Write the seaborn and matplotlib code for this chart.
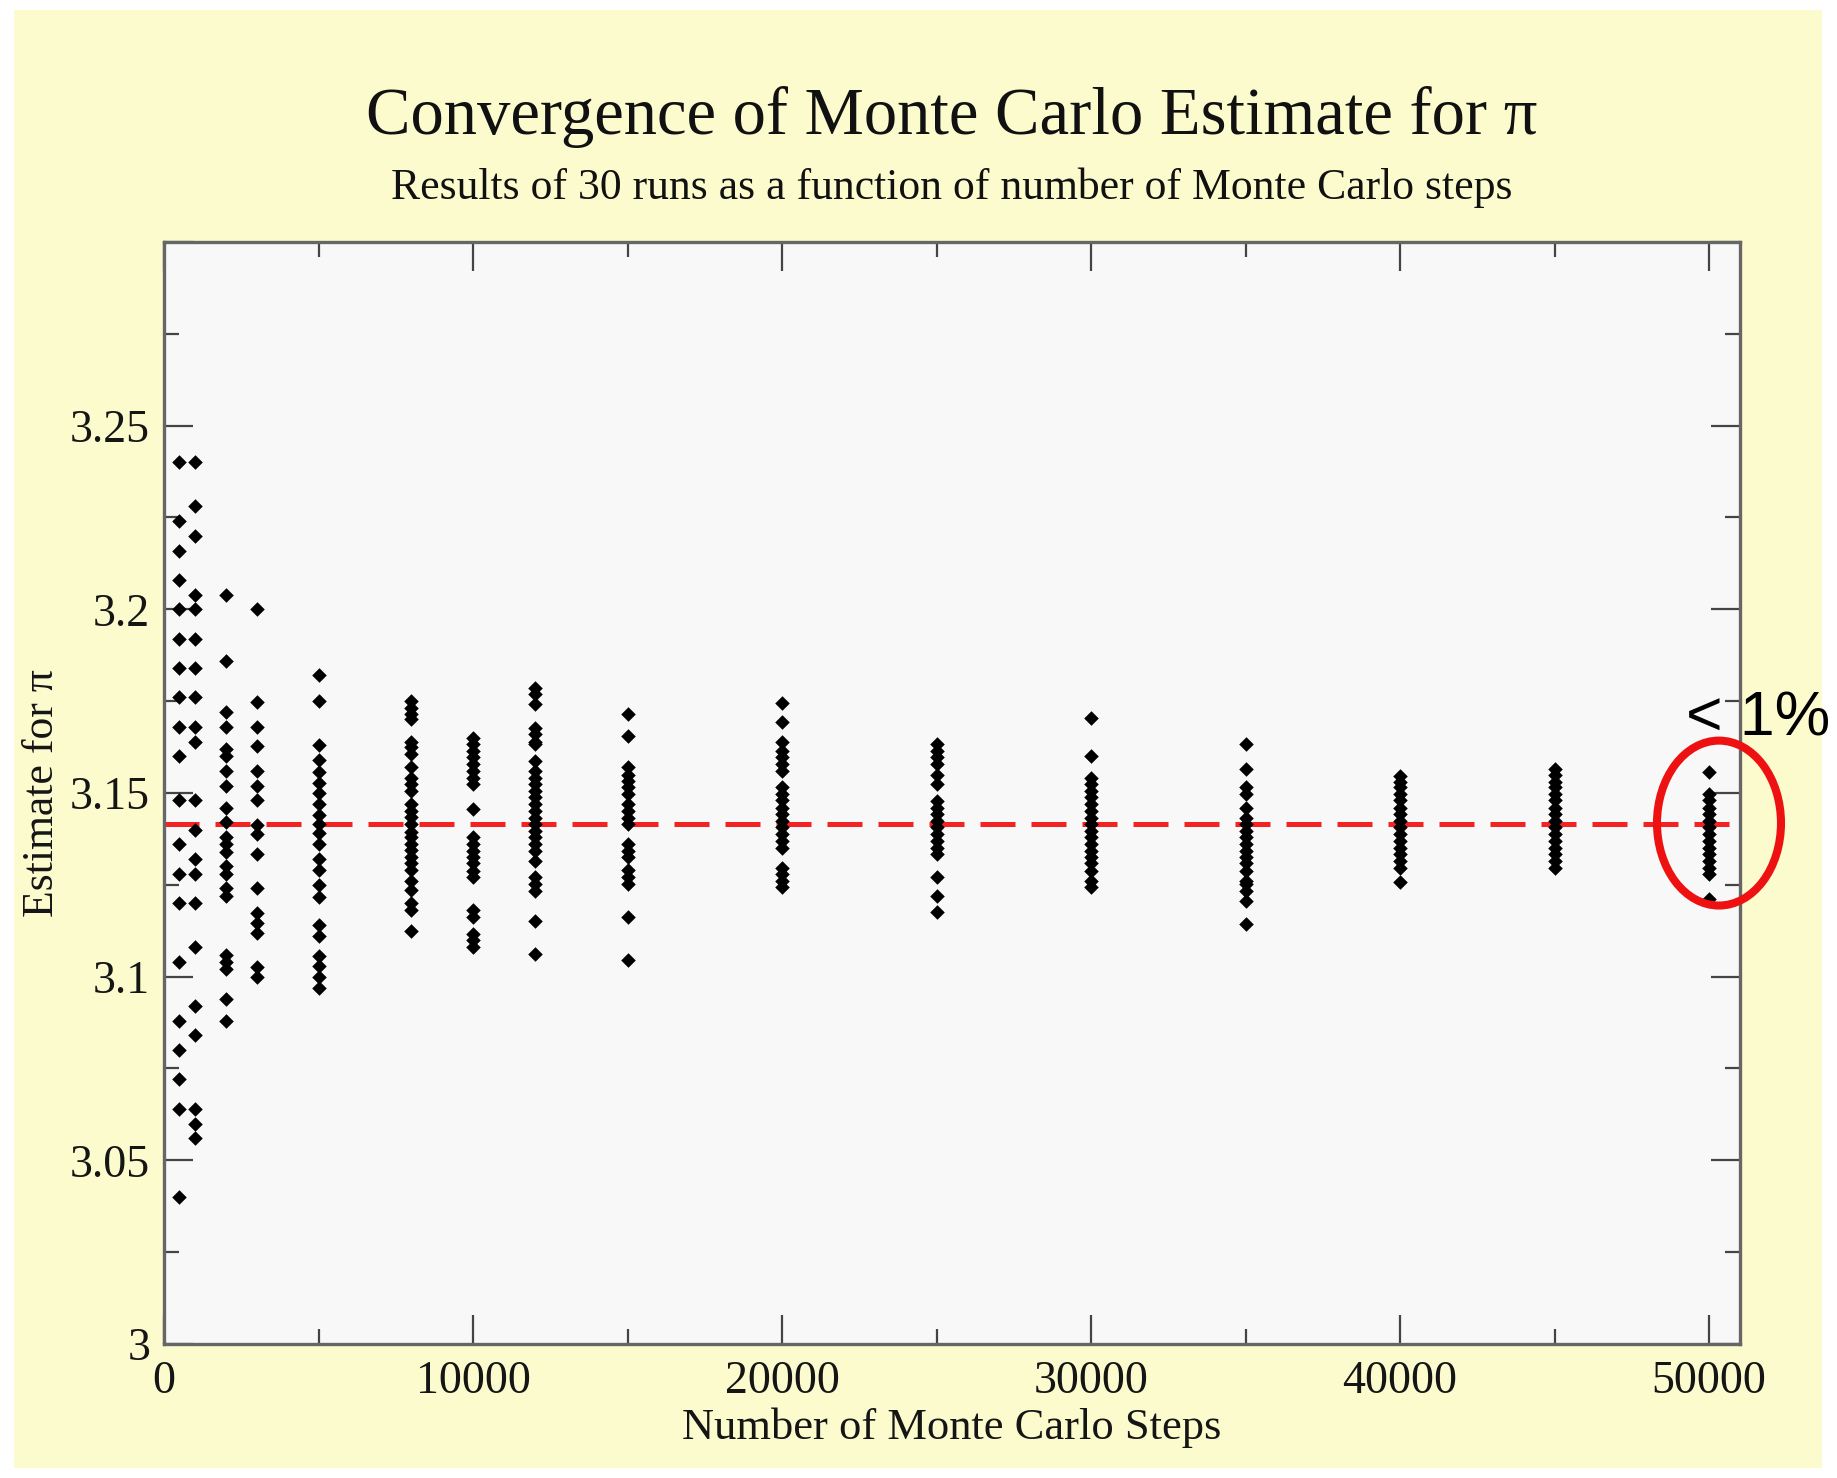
import numpy as np
import pandas as pd
import matplotlib
matplotlib.use("Agg")
import matplotlib.pyplot as plt
import seaborn as sns
from matplotlib.patches import Ellipse, Rectangle
from matplotlib.ticker import MultipleLocator, FuncFormatter

# Monte Carlo estimates of pi (one list per step count)
steps = [500, 1000, 2000, 3000, 5000, 8000, 10000, 12000, 15000,
         20000, 25000, 30000, 35000, 40000, 45000, 50000]

est_500 = [3.240, 3.224, 3.216, 3.208, 3.200, 3.192, 3.184, 3.176, 3.168, 3.160,
           3.148, 3.136, 3.128, 3.120, 3.104, 3.088, 3.080, 3.072, 3.064, 3.040]
est_1000 = [3.240, 3.228, 3.220, 3.204, 3.200, 3.192, 3.184, 3.176, 3.168, 3.164,
            3.148, 3.140, 3.132, 3.128, 3.120, 3.108, 3.092, 3.084, 3.064, 3.060, 3.056]
est_2000 = [3.204, 3.186, 3.172, 3.168, 3.162, 3.160, 3.156, 3.152, 3.146, 3.142, 3.138,
            3.136, 3.134, 3.130, 3.128, 3.124, 3.122, 3.106, 3.104, 3.102, 3.094, 3.088]
est_3000 = [3.2000, 3.1747, 3.1680, 3.1627, 3.1560, 3.1520, 3.1480, 3.1413,
            3.1387, 3.1333, 3.1240, 3.1173, 3.1147, 3.1120, 3.1027, 3.1000]
est_5000 = [3.182, 3.175, 3.163, 3.159, 3.1556, 3.1528, 3.150, 3.147, 3.144, 3.1416, 3.139,
            3.136, 3.132, 3.129, 3.125, 3.1216, 3.114, 3.111, 3.1056, 3.1028, 3.100, 3.097]
est_8000 = [3.175, 3.173, 3.1715, 3.170, 3.164, 3.1625, 3.1605, 3.157, 3.154, 3.1525,
            3.1505, 3.147, 3.145, 3.1435, 3.1415, 3.1395, 3.138, 3.136, 3.1345, 3.1325,
            3.131, 3.129, 3.126, 3.1235, 3.120, 3.118, 3.1125]
est_10000 = [3.165, 3.1633, 3.1615, 3.1597, 3.158, 3.156, 3.1542, 3.1524, 3.1456, 3.138,
             3.136, 3.1343, 3.1325, 3.131, 3.1288, 3.127, 3.118, 3.1162, 3.1116, 3.110, 3.108]
est_12000 = [3.1787, 3.1769, 3.1742, 3.1678, 3.166, 3.164, 3.1633, 3.1587, 3.156, 3.1542,
             3.1524, 3.1506, 3.1488, 3.147, 3.1452, 3.1433, 3.1415, 3.1397, 3.138, 3.136,
             3.1343, 3.1316, 3.127, 3.1252, 3.1234, 3.1152, 3.1062]
est_15000 = [3.1714, 3.1655, 3.157, 3.155, 3.1533, 3.1515, 3.1497, 3.147, 3.1452, 3.1433,
             3.1415, 3.136, 3.1343, 3.1325, 3.129, 3.127, 3.1252, 3.1162, 3.1044]
est_20000 = [3.1746, 3.1692, 3.164, 3.1615, 3.1597, 3.158, 3.156, 3.1515, 3.1497, 3.148,
             3.146, 3.1442, 3.1424, 3.1406, 3.1388, 3.137, 3.135, 3.1297, 3.128, 3.126, 3.1243]
est_25000 = [3.1633, 3.1615, 3.1597, 3.158, 3.155, 3.1524, 3.1479, 3.146, 3.1442,
             3.1424, 3.1406, 3.1388, 3.137, 3.135, 3.1334, 3.127, 3.122, 3.1175]
est_30000 = [3.1705, 3.160, 3.154, 3.1524, 3.1506, 3.1488, 3.147, 3.1452, 3.1433, 3.1415,
             3.1397, 3.138, 3.136, 3.1343, 3.1325, 3.131, 3.1288, 3.1261, 3.1243]
est_35000 = [3.1633, 3.1565, 3.1515, 3.1497, 3.146, 3.1433, 3.1415, 3.1397, 3.138, 3.136,
             3.1343, 3.1325, 3.131, 3.1288, 3.1261, 3.1252, 3.1234, 3.1207, 3.1143]
est_40000 = [3.1547, 3.153, 3.1515, 3.1497, 3.148, 3.146, 3.1442, 3.1424,
             3.1406, 3.1388, 3.137, 3.135, 3.1334, 3.1316, 3.1297, 3.1257]
est_45000 = [3.1565, 3.155, 3.153, 3.1515, 3.1497, 3.148, 3.146, 3.1442,
             3.1424, 3.1406, 3.1388, 3.137, 3.135, 3.1334, 3.1316, 3.1297]
est_50000 = [3.1556, 3.1497, 3.148, 3.146, 3.1442, 3.1424, 3.1406, 3.1388,
             3.137, 3.135, 3.1334, 3.1316, 3.1297, 3.128, 3.121]

estimates = [est_500, est_1000, est_2000, est_3000, est_5000, est_8000, est_10000,
             est_12000, est_15000, est_20000, est_25000, est_30000, est_35000,
             est_40000, est_45000, est_50000]

df = pd.DataFrame(
    [(n, v) for n, vals in zip(steps, estimates) for v in vals],
    columns=["steps", "estimate"],
)

sns.set_style("ticks")
plt.rcParams["font.family"] = ["Liberation Serif", "DejaVu Serif"]

fig = plt.figure(figsize=(18.37, 14.78), dpi=100, facecolor="white")
# yellow slide background
fig.patches.append(Rectangle((0.0076, 0.0068), 0.9842, 0.9864, transform=fig.transFigure,
                             facecolor="#fbfbcd", edgecolor="none", zorder=-10))
ax = fig.add_axes([0.0893, 0.0907, 0.8579, 0.7456])
ax.set_facecolor("#f8f8f8")

sns.scatterplot(data=df, x="steps", y="estimate", marker="D", s=55,
                color="black", linewidth=0, ax=ax, zorder=3)

ax.axhline(np.pi, color="#f42323", lw=3.6, dashes=(7, 3.2), zorder=2)

ax.add_patch(Ellipse((50320, 3.1418), width=4013, height=0.0449, fill=False,
                     edgecolor="#ee1111", lw=5.8, clip_on=False, zorder=4))

ax.set_xlim(0, 51000)
ax.set_ylim(3.0, 3.3)
ax.xaxis.set_major_locator(MultipleLocator(10000))
ax.xaxis.set_minor_locator(MultipleLocator(5000))
ax.yaxis.set_major_locator(MultipleLocator(0.05))
ax.yaxis.set_minor_locator(MultipleLocator(0.025))
ax.yaxis.set_major_formatter(FuncFormatter(lambda v, p: "" if v > 3.28 else "%g" % round(v, 3)))
ax.xaxis.set_major_formatter(FuncFormatter(lambda v, p: "%d" % v))

ax.tick_params(which="both", direction="in", top=True, right=True, color="#444444",
               width=1.6, labelsize=33, labelcolor="#151515")
ax.tick_params(which="major", length=21)
ax.tick_params(which="minor", length=11)
ax.tick_params(axis="x", pad=12)
ax.tick_params(axis="y", pad=10)
for sp in ax.spines.values():
    sp.set_color("#666666")
    sp.set_linewidth(2.4)

ax.set_xlabel("Number of Monte Carlo Steps", fontsize=32, color="#151515", labelpad=3)
ax.set_ylabel("Estimate for π", fontsize=31.5, color="#151515", labelpad=6)

fig.text(0.518, 0.921, "Convergence of Monte Carlo Estimate for π", ha="center",
         va="center", fontsize=48, color="#111111")
fig.text(0.518, 0.873, "Results of 30 runs as a function of number of Monte Carlo steps",
         ha="center", va="center", fontsize=31.5, color="#111111")
fig.text(0.918, 0.5027, "< 1%", ha="left", va="baseline", fontsize=45,
         family=["Liberation Sans", "DejaVu Sans"], color="black")

fig.savefig("out.png", dpi=100, facecolor=fig.get_facecolor())
